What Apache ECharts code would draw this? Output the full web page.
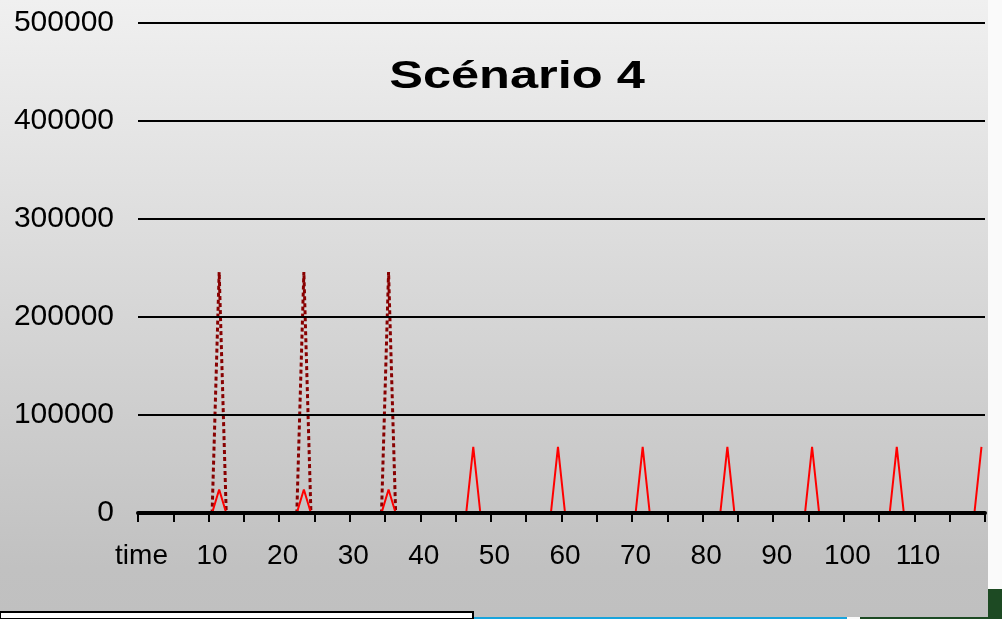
<!DOCTYPE html>
<html>
<head>
<meta charset="utf-8">
<title>Scénario 4</title>
<script src="https://cdn.jsdelivr.net/npm/echarts@6/dist/echarts.min.js"></script>
<style>
  html, body { margin: 0; padding: 0; background: #fafafa; }
  #chart { width: 1002px; height: 619px; }
</style>
</head>
<body>
<div id="chart"></div>
<script>
// time steps (category axis), first cell is the column header
const timeSteps = [
  'time', 1, 2, 3, 4, 5, 6, 7, 8, 9, 10, 11,
  12, 13, 14, 15, 16, 17, 18, 19, 20, 21, 22, 23,
  24, 25, 26, 27, 28, 29, 30, 31, 32, 33, 34, 35,
  36, 37, 38, 39, 40, 41, 42, 43, 44, 45, 46, 47,
  48, 49, 50, 51, 52, 53, 54, 55, 56, 57, 58, 59,
  60, 61, 62, 63, 64, 65, 66, 67, 68, 69, 70, 71,
  72, 73, 74, 75, 76, 77, 78, 79, 80, 81, 82, 83,
  84, 85, 86, 87, 88, 89, 90, 91, 92, 93, 94, 95,
  96, 97, 98, 99, 100, 101, 102, 103, 104, 105, 106, 107,
  108, 109, 110, 111, 112, 113, 114, 115, 116, 117, 118, 119
].map(String)

// dotted dark red series
const dottedValues = [
  0, 0, 0, 0, 0, 0, 0, 0, 0, 0, 0, 246000,
  0, 0, 0, 0, 0, 0, 0, 0, 0, 0, 0, 246000,
  0, 0, 0, 0, 0, 0, 0, 0, 0, 0, 0, 246000,
  0, 0, 0, 0, 0, 0, 0, 0, 0, 0, 0, 0,
  0, 0, 0, 0, 0, 0, 0, 0, 0, 0, 0, 0,
  0, 0, 0, 0, 0, 0, 0, 0, 0, 0, 0, 0,
  0, 0, 0, 0, 0, 0, 0, 0, 0, 0, 0, 0,
  0, 0, 0, 0, 0, 0, 0, 0, 0, 0, 0, 0,
  0, 0, 0, 0, 0, 0, 0, 0, 0, 0, 0, 0,
  0, 0, 0, 0, 0, 0, 0, 0, 0, 0, 0, 0
]

// solid red series
const solidValues = [
  0, 0, 0, 0, 0, 0, 0, 0, 0, 0, 0, 24000,
  0, 0, 0, 0, 0, 0, 0, 0, 0, 0, 0, 24000,
  0, 0, 0, 0, 0, 0, 0, 0, 0, 0, 0, 24000,
  0, 0, 0, 0, 0, 0, 0, 0, 0, 0, 0, 67500,
  0, 0, 0, 0, 0, 0, 0, 0, 0, 0, 0, 67500,
  0, 0, 0, 0, 0, 0, 0, 0, 0, 0, 0, 67500,
  0, 0, 0, 0, 0, 0, 0, 0, 0, 0, 0, 67500,
  0, 0, 0, 0, 0, 0, 0, 0, 0, 0, 0, 67500,
  0, 0, 0, 0, 0, 0, 0, 0, 0, 0, 0, 67500,
  0, 0, 0, 0, 0, 0, 0, 0, 0, 0, 0, 67500
]

const yTicks = [0, 100000, 200000, 300000, 400000, 500000]

const fontFamily = '"Liberation Sans", Arial, sans-serif'

const chart = echarts.init(document.getElementById('chart'))

const option = {
  animation: false,
  backgroundColor: '#fafafa',
  graphic: [
    // slide background behind the chart
    {
      type: 'rect', z: -10, silent: true,
      shape: { x: 860, y: 589, width: 142, height: 30 },
      style: { fill: '#1d4a23' }
    },
    {
      type: 'rect', z: -10, silent: true,
      shape: { x: 473, y: 617, width: 374, height: 2 },
      style: { fill: '#18a4dc' }
    },
    {
      type: 'rect', z: -9, silent: true,
      shape: { x: 0, y: 0, width: 988, height: 617 },
      style: {
        fill: new echarts.graphic.LinearGradient(0, 0, 0, 1, [
          { offset: 0, color: '#f0f0f0' },
          { offset: 0.92, color: '#c1c1c1' },
          { offset: 1, color: '#c0c0c0' }
        ])
      }
    },
    {
      type: 'rect', z: -8, silent: true,
      shape: { x: 0, y: 612, width: 473, height: 7 },
      style: { fill: '#ffffff', stroke: '#000', lineWidth: 2 }
    },
    // title, stretched wide like the original
    {
      type: 'text', z: 20, silent: true,
      x: 517, y: 78, scaleX: 1.33,
      style: {
        text: 'Scénario 4',
        x: 0, y: 0,
        align: 'center',
        verticalAlign: 'middle',
        font: 'bold 38px ' + fontFamily,
        fill: '#000'
      }
    }
  ],
  grid: {
    left: 138,
    right: 17,
    top: 23,
    bottom: 106,
    containLabel: false
  },
  xAxis: {
    type: 'category',
    data: timeSteps,
    boundaryGap: true,
    z: 10,
    axisLine: { lineStyle: { color: '#000', width: 4 } },
    axisTick: {
      show: true,
      interval: 4,
      length: 9,
      lineStyle: { color: '#000', width: 2 }
    },
    axisLabel: {
      interval: 9,
      margin: 29,
      color: '#000',
      fontFamily: fontFamily,
      fontSize: 28
    },
    splitLine: { show: false }
  },
  yAxis: {
    type: 'value',
    min: yTicks[0],
    max: yTicks[yTicks.length - 1],
    interval: yTicks[1] - yTicks[0],
    axisLine: { show: false },
    axisTick: { show: false },
    axisLabel: {
      margin: 24,
      color: '#000',
      fontFamily: fontFamily,
      fontSize: 30,
      formatter: function (value) {
        return String(value)
      }
    },
    splitLine: { lineStyle: { color: '#000', width: 2 } }
  },
  series: [
    {
      name: 'dotted',
      type: 'line',
      z: -1,
      data: dottedValues,
      showSymbol: false,
      symbol: 'none',
      lineStyle: { color: '#880000', width: 3, type: [4, 3] }
    },
    {
      name: 'solid',
      type: 'line',
      z: -1,
      data: solidValues,
      showSymbol: false,
      symbol: 'none',
      lineStyle: { color: '#ff0000', width: 2 }
    }
  ]
}

chart.setOption(option)
</script>
</body>
</html>
